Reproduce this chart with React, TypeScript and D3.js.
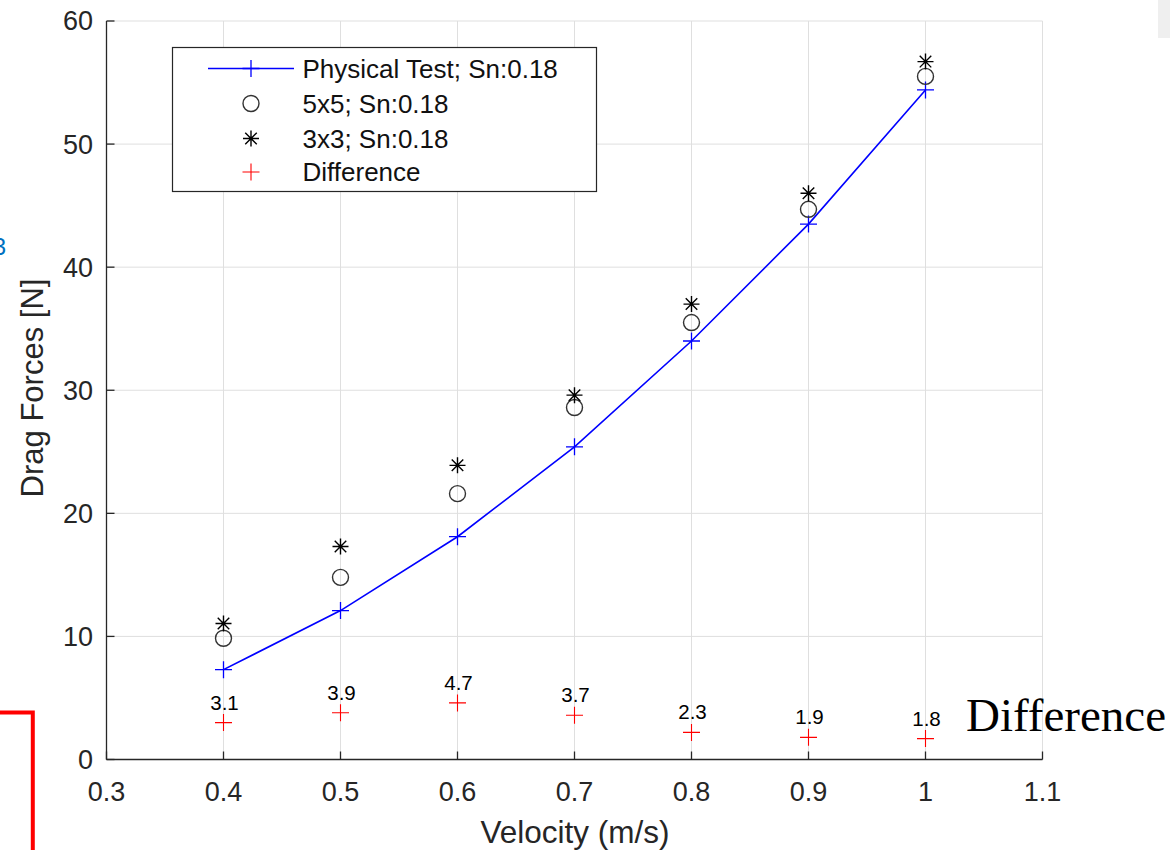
import React from "react";
import * as d3 from "d3";

const velocities = [0.4, 0.5, 0.6, 0.7, 0.8, 0.9, 1.0];
const physicalTest = [7.3, 12.1, 18.1, 25.4, 34.0, 43.5, 54.4];
const mesh5x5 = [9.85, 14.8, 21.6, 28.6, 35.5, 44.7, 55.5];
const mesh3x3 = [11.05, 17.3, 23.9, 29.6, 37.0, 46.0, 56.7];
const difference = [3.0, 3.8, 4.6, 3.6, 2.2, 1.8, 1.7];
const differenceLabels = ["3.1", "3.9", "4.7", "3.7", "2.3", "1.9", "1.8"];
const xTicks = [0.3, 0.4, 0.5, 0.6, 0.7, 0.8, 0.9, 1.0, 1.1];
const xTickLabels = ["0.3", "0.4", "0.5", "0.6", "0.7", "0.8", "0.9", "1", "1.1"];
const yTicks = [0, 10, 20, 30, 40, 50, 60];
const legendLabels = ["Physical Test; Sn:0.18", "5x5; Sn:0.18", "3x3; Sn:0.18", "Difference"];

const SANS = "'Liberation Sans', Arial, Helvetica, sans-serif";
const AX = "#262626";

const plus = (cx: number, cy: number, r: number) =>
  `M${cx - r},${cy}H${cx + r}M${cx},${cy - r}V${cy + r}`;
const star = (cx: number, cy: number, r: number) => {
  const d = r * 0.72;
  return `M${cx - r},${cy}H${cx + r}M${cx},${cy - r}V${cy + r}M${cx - d},${cy - d}L${cx + d},${cy + d}M${cx - d},${cy + d}L${cx + d},${cy - d}`;
};

export default function App() {
  const x = d3.scaleLinear().domain([0.3, 1.1]).range([106.5, 1042.5]);
  const y = d3.scaleLinear().domain([0, 60]).range([759.5, 21]);
  const line = d3
    .line<number>()
    .x((_, i) => x(velocities[i]))
    .y((d) => y(d));

  const legendX = 172.5, legendY = 47.5, legendW = 424, legendH = 144;
  const rowY = [68.5, 103.5, 138.5, 172];
  const mk = 251;

  return (
    <svg
      width={1170}
      height={850}
      style={{ position: "absolute", left: 0, top: 0, background: "#fff" }}
      fontFamily={SANS}
    >
      <rect x={0} y={0} width={1170} height={850} fill="#fff" />
      {/* top-right artefact */}
      <rect x={1158} y={0} width={12} height={38} fill="#efefef" />
      {/* left artefacts */}
      <text x={6} y={255} fontSize={24} fill="#0070c0" textAnchor="end">3</text>
      <path d="M0,712.5H32.8V850" fill="none" stroke="#ff0000" strokeWidth={4} />

      {/* grid */}
      {xTicks.map((t) => (
        <line key={"gx" + t} x1={x(t)} x2={x(t)} y1={y(0)} y2={y(60)} stroke="#dfdfdf" strokeWidth={1} />
      ))}
      {yTicks.map((t) => (
        <line key={"gy" + t} x1={x(0.3)} x2={x(1.1)} y1={y(t)} y2={y(t)} stroke="#dfdfdf" strokeWidth={1} />
      ))}

      {/* axes */}
      <line x1={x(0.3)} x2={x(0.3)} y1={y(0)} y2={y(60)} stroke={AX} strokeWidth={1.3} />
      <line x1={x(0.3)} x2={x(1.1)} y1={y(0)} y2={y(0)} stroke={AX} strokeWidth={1.3} />
      {xTicks.map((t) => (
        <line key={"tx" + t} x1={x(t)} x2={x(t)} y1={y(0)} y2={y(0) - 8} stroke={AX} strokeWidth={1.3} />
      ))}
      {yTicks.map((t) => (
        <line key={"ty" + t} x1={x(0.3)} x2={x(0.3) + 8} y1={y(t)} y2={y(t)} stroke={AX} strokeWidth={1.3} />
      ))}
      {xTicks.map((t, i) => (
        <text key={"lx" + t} x={x(t)} y={800.5} fontSize={27} fill={AX} textAnchor="middle">
          {xTickLabels[i]}
        </text>
      ))}
      {yTicks.map((t) => (
        <text key={"ly" + t} x={93} y={y(t)} dy="0.35em" fontSize={27} fill={AX} textAnchor="end">
          {t}
        </text>
      ))}
      <text x={575} y={843} fontSize={31.5} fill={AX} textAnchor="middle">Velocity (m/s)</text>
      <text transform="translate(43,388) rotate(-90)" fontSize={31} fill={AX} textAnchor="middle">
        Drag Forces [N]
      </text>

      {/* physical test line */}
      <path d={line(physicalTest) || ""} fill="none" stroke="#0000ff" strokeWidth={1.6} />
      {physicalTest.map((v, i) => (
        <path key={"pt" + i} d={plus(x(velocities[i]), y(v), 8.5)} stroke="#0000ff" strokeWidth={1.3} fill="none" />
      ))}
      {mesh5x5.map((v, i) => (
        <circle key={"c5" + i} cx={x(velocities[i])} cy={y(v)} r={8} fill="none" stroke="#333" strokeWidth={1.4} />
      ))}
      {mesh3x3.map((v, i) => (
        <path key={"s3" + i} d={star(x(velocities[i]), y(v), 8)} stroke="#000" strokeWidth={1.4} fill="none" />
      ))}
      {difference.map((v, i) => (
        <path key={"df" + i} d={plus(x(velocities[i]), y(v), 8.5)} stroke="#ff0000" strokeWidth={1.1} fill="none" />
      ))}
      {difference.map((v, i) => (
        <text key={"dl" + i} x={x(velocities[i]) + 1} y={y(v) - 13} fontSize={20.5} fill="#000" textAnchor="middle">
          {differenceLabels[i]}
        </text>
      ))}

      {/* legend */}
      <rect x={legendX} y={legendY} width={legendW} height={legendH} fill="#fff" stroke={AX} strokeWidth={1.2} />
      <line x1={208} x2={294} y1={rowY[0]} y2={rowY[0]} stroke="#0000ff" strokeWidth={1.6} />
      <path d={plus(mk, rowY[0], 8.5)} stroke="#0000ff" strokeWidth={1.3} fill="none" />
      <circle cx={mk} cy={rowY[1]} r={8} fill="none" stroke="#333" strokeWidth={1.4} />
      <path d={star(mk, rowY[2], 8)} stroke="#000" strokeWidth={1.4} fill="none" />
      <path d={plus(mk, rowY[3], 8.5)} stroke="#ff0000" strokeWidth={1.1} fill="none" />
      {legendLabels.map((l, i) => (
        <text key={"lg" + i} x={302.5} y={rowY[i]} dy="0.35em" fontSize={26} fill="#111">
          {l}
        </text>
      ))}

      <text x={966} y={731} fontSize={47} fontFamily="'Liberation Serif', 'Times New Roman', serif" fill="#000">
        Difference
      </text>
    </svg>
  );
}
